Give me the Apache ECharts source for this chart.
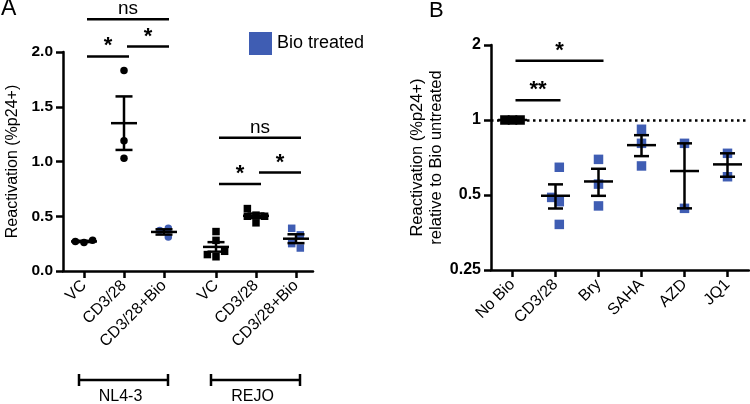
<!DOCTYPE html>
<html><head><meta charset="utf-8">
<script src="https://cdn.jsdelivr.net/npm/echarts@6/dist/echarts.min.js"></script>
<style>html,body{margin:0;padding:0;background:#fff}#c{width:750px;height:404px}</style>
</head><body><div id="c"></div>
<script>
// ---------------- data ----------------
const catsA = ['VC', 'CD3/28', 'CD3/28+Bio', 'VC', 'CD3/28', 'CD3/28+Bio'];
const strainsA = ['NL4-3', 'REJO'];
const nl43VC  = [0.28, 0.27, 0.26];
const nl43CD  = [1.83, 1.19, 1.03];
const nl43Bio = [0.39, 0.31, 0.37];
const rejoVC  = [0.36, 0.28, 0.18, 0.15, 0.13];
const rejoCD  = [0.57, 0.51, 0.50, 0.50, 0.44];
const rejoBio = [0.39, 0.33, 0.25, 0.21];
const yTicksA = ['0.0', '0.5', '1.0', '1.5', '2.0'];

const catsB = ['No Bio', 'CD3/28', 'Bry', 'SAHA', 'AZD', 'JQ1'];
const noBioB = [1, 1, 1];
const cdB    = [0.646, 0.489, 0.47, 0.381];
const bryB   = [0.695, 0.553, 0.452];
const sahaB  = [0.918, 0.806, 0.654];
const azdB   = [0.806, 0.442];
const jq1B   = [0.735, 0.592];
const yTicksB = ['0.25', '0.5', '1', '2'];

// significance brackets: [fromCategory, toCategory, y value, label]
const sigA = [[0, 2, 2.30, 'ns'], [0, 1, 1.96, '*'], [1, 2, 2.05, '*'],
              [3, 5, 1.216, 'ns'], [3, 4, 0.795, '*'], [4, 5, 0.899, '*']];
const sigB = [[0, 2, 1.73, '*'], [0, 1, 1.20, '**']];
// strain groups: [fromCategory, toCategory]
const groupsA = [[0, 2], [3, 5]];

// ---------------- layout / style ----------------
const FONT = "'Liberation Sans', Arial, Helvetica, sans-serif";
const BLUE = '#3f5db3';
const gA = {left: 63, top: 52, width: 250, height: 219};
const gB = {left: 491, top: 45, width: 258, height: 225};
const groupGap = 0.3;
const posA = catsA.map((c, i) => i < 3 ? i : i + groupGap);
const xPosA = i => i < 3 ? i : i + groupGap;

function meanSem(v) {
  const n = v.length, m = v.reduce((a, b) => a + b, 0) / n;
  if (n < 2) return [m, 0];
  const sd = Math.sqrt(v.reduce((a, b) => a + (b - m) * (b - m), 0) / (n - 1));
  return [m, sd / Math.sqrt(n)];
}
function swarm(vals, toPx, size, step) {
  const order = vals.map((v, i) => i).sort((a, b) => vals[a] - vals[b]);
  const placed = [], off = new Array(vals.length).fill(0);
  const cands = [0];
  for (let k = 1; k < 10; k++) cands.push(-k * step, k * step);
  order.forEach(i => {
    const y = toPx(vals[i]);
    for (const c of cands) {
      if (!placed.some(p => Math.abs(p.y - y) < size * 0.95 && Math.abs(p.x - c) < step * 0.99)) {
        off[i] = c; placed.push({x: c, y}); break;
      }
    }
  });
  const mid = (Math.min(...off) + Math.max(...off)) / 2;
  return off.map(o => o - mid);
}
const pxA = v => v * gA.height / 2;
const pxB = v => Math.log2(v) * gB.height / 3;

const SZ_A = 7.5, SZ_B = 9.5;
function scatterA(vals, cat, symbol, color, name) {
  const off = swarm(vals, pxA, SZ_A, SZ_A * 1.15);
  return {
    type: 'scatter', name: name, xAxisIndex: 0, yAxisIndex: 0,
    symbol: symbol, symbolSize: SZ_A, itemStyle: {color: color, opacity: 1},
    z: 3, silent: true,
    data: vals.map((v, i) => ({value: [xPosA(cat), v], symbolOffset: [off[i], 0]}))
  };
}
function scatterB(vals, cat, color, name) {
  const off = swarm(vals, pxB, SZ_B, SZ_B * 0.8);
  return {
    type: 'scatter', name: name, xAxisIndex: 1, yAxisIndex: 1,
    symbol: 'rect', symbolSize: SZ_B, itemStyle: {color: color, opacity: 1},
    z: 3, silent: true,
    data: vals.map((v, i) => ({value: [cat, v], symbolOffset: [off[i], 0]}))
  };
}
const LW = 2.5;
function errRender(meanW, capW) {
  return function (params, api) {
    const x = api.value(0), m = api.value(1), s = api.value(2);
    const c = api.coord([x, m]), hi = api.coord([x, m + s]), lo = api.coord([x, m - s]);
    const st = {stroke: '#000', lineWidth: LW};
    const ch = [{type: 'line', shape: {x1: c[0] - meanW / 2, y1: c[1], x2: c[0] + meanW / 2, y2: c[1]}, style: st}];
    if (s > 0) {
      ch.push({type: 'line', shape: {x1: c[0], y1: hi[1], x2: c[0], y2: lo[1]}, style: st});
      ch.push({type: 'line', shape: {x1: c[0] - capW / 2, y1: hi[1], x2: c[0] + capW / 2, y2: hi[1]}, style: st});
      ch.push({type: 'line', shape: {x1: c[0] - capW / 2, y1: lo[1], x2: c[0] + capW / 2, y2: lo[1]}, style: st});
    }
    return {type: 'group', children: ch};
  };
}
function sigRender(list, xpos) {
  return function (params, api) {
    const s = list[params.dataIndex];
    const p1 = api.coord([xpos(s[0]), s[2]]), p2 = api.coord([xpos(s[1]), s[2]]);
    const x1 = p1[0] + 3, x2 = p2[0] + 5, y = p1[1];
    const star = s[3].indexOf('*') >= 0;
    return {type: 'group', children: [
      {type: 'line', shape: {x1: x1, y1: y, x2: x2, y2: y}, style: {stroke: '#000', lineWidth: LW}},
      {type: 'text', x: (x1 + x2) / 2, y: star ? y + 1 : y - 1,
       style: {text: s[3], font: (star ? 'bold 22px ' : 'normal 19px ') + FONT,
               fill: '#000', align: 'center', verticalAlign: 'bottom'}}
    ]};
  };
}
function groupRender(params, api) {
  const g = groupsA[params.dataIndex];
  const a = api.coord([xPosA(g[0]), 0]), b = api.coord([xPosA(g[1]), 0]);
  const x1 = a[0] - 5, x2 = b[0] + 4, y = a[1] + 109;
  const st = {stroke: '#000', lineWidth: LW};
  return {type: 'group', children: [
    {type: 'line', shape: {x1: x1, y1: y, x2: x2, y2: y}, style: st},
    {type: 'line', shape: {x1: x1, y1: y - 6, x2: x1, y2: y + 6}, style: st},
    {type: 'line', shape: {x1: x2, y1: y - 6, x2: x2, y2: y + 6}, style: st},
    {type: 'text', x: (x1 + x2) / 2 - 3, y: y + 17,
     style: {text: strainsA[params.dataIndex], font: 'normal 16px ' + FONT, fill: '#000',
             align: 'center', verticalAlign: 'middle'}}
  ]};
}

const groupsDataA = [[nl43VC, 0], [nl43CD, 1], [nl43Bio, 2], [rejoVC, 3], [rejoCD, 4], [rejoBio, 5]];
const errA = groupsDataA.map(g => [xPosA(g[1])].concat(meanSem(g[0])));
const groupsDataB = [noBioB, cdB, bryB, sahaB, azdB, jq1B];
const errB = groupsDataB.map((g, i) => [i].concat(meanSem(g)));

const axisLine = {show: true, onZero: false, lineStyle: {color: '#000', width: LW}};
const axisTick = {show: true, length: 7, lineStyle: {color: '#000', width: LW}};

const nearestIdx = (arr, v) => arr.findIndex(p => Math.abs(p - v) < 1e-6);

const option = {
  animation: false,
  textStyle: {fontFamily: FONT},
  title: [
    {text: 'A', left: 1, top: -3, padding: 0, textStyle: {fontSize: 23, fontWeight: 'normal', color: '#000', fontFamily: FONT}},
    {text: 'B', left: 429, top: 0, padding: 0, textStyle: {fontSize: 22, fontWeight: 'normal', color: '#000', fontFamily: FONT}}
  ],
  legend: {
    data: ['Bio treated'], left: 249, top: 32, padding: 0, icon: 'rect',
    itemWidth: 23, itemHeight: 23, selectedMode: false, itemGap: 5,
    textStyle: {fontSize: 18, color: '#000', fontFamily: FONT}
  },
  grid: [
    Object.assign({containLabel: false}, gA),
    Object.assign({containLabel: false}, gB)
  ],
  xAxis: [
    {gridIndex: 0, type: 'value', min: -0.525, max: 5 + groupGap + 0.425,
     axisLine: axisLine, splitLine: {show: false},
     axisTick: Object.assign({customValues: posA}, axisTick),
     axisLabel: {customValues: posA, rotate: 45, fontSize: 16, color: '#000', margin: 12, fontFamily: FONT,
                 formatter: v => catsA[nearestIdx(posA, v)] || ''}},
    {gridIndex: 1, type: 'category', data: catsB, boundaryGap: true,
     axisLine: axisLine, splitLine: {show: false},
     axisTick: Object.assign({alignWithLabel: true}, axisTick),
     axisLabel: {rotate: 45, fontSize: 16, color: '#000', margin: 12, interval: 0, fontFamily: FONT}}
  ],
  yAxis: [
    {gridIndex: 0, type: 'value', min: 0, max: 2, interval: 0.5,
     axisLine: axisLine, axisTick: axisTick, splitLine: {show: false},
     axisLabel: {fontSize: 15.5, fontWeight: 'bold', color: '#000', margin: 10, fontFamily: FONT,
                 formatter: v => yTicksA[Math.round(v / 0.5)]},
     name: 'Reactivation (%p24+)', nameLocation: 'middle', nameGap: 42,
     nameTextStyle: {fontSize: 16, color: '#000', fontFamily: FONT}},
    {gridIndex: 1, type: 'log', logBase: 2, min: 0.25, max: 2,
     axisLine: axisLine, axisTick: axisTick, splitLine: {show: false}, minorTick: {show: false},
     axisLabel: {fontSize: 16, fontWeight: 'bold', color: '#000', margin: 10, fontFamily: FONT,
                 formatter: v => yTicksB[Math.round(Math.log2(v)) + 2]},
     name: 'Reactivation (%p24+)\nrelative to Bio untreated', nameLocation: 'middle', nameGap: 45,
     nameTextStyle: {fontSize: 16.5, lineHeight: 19, color: '#000', fontFamily: FONT}}
  ],
  series: [
    scatterA(nl43VC, 0, 'circle', '#000', 'NL4-3 VC'),
    scatterA(nl43CD, 1, 'circle', '#000', 'NL4-3 CD3/28'),
    scatterA(nl43Bio, 2, 'circle', BLUE, 'Bio treated'),
    scatterA(rejoVC, 3, 'rect', '#000', 'REJO VC'),
    scatterA(rejoCD, 4, 'rect', '#000', 'REJO CD3/28'),
    scatterA(rejoBio, 5, 'rect', BLUE, 'Bio treated'),
    {type: 'custom', xAxisIndex: 0, yAxisIndex: 0, data: errA, renderItem: errRender(26, 17), z: 5, silent: true, clip: false},
    {type: 'custom', xAxisIndex: 0, yAxisIndex: 0, data: sigA.map(s => [xPosA(s[0]), s[2]]),
     renderItem: sigRender(sigA, xPosA), z: 5, silent: true, clip: false},
    {type: 'custom', xAxisIndex: 0, yAxisIndex: 0, data: groupsA.map(g => [xPosA(g[0]), 0]),
     renderItem: groupRender, z: 5, silent: true, clip: false},

    Object.assign(scatterB(noBioB, 0, '#000', 'No Bio'), {
      markLine: {symbol: 'none', silent: true, label: {show: false},
                 lineStyle: {type: [2.5, 3.5], color: '#000', width: 2.5},
                 data: [{yAxis: 1}]}
    }),
    scatterB(cdB, 1, BLUE, 'Bio treated'),
    scatterB(bryB, 2, BLUE, 'Bio treated'),
    scatterB(sahaB, 3, BLUE, 'Bio treated'),
    scatterB(azdB, 4, BLUE, 'Bio treated'),
    scatterB(jq1B, 5, BLUE, 'Bio treated'),
    {type: 'custom', xAxisIndex: 1, yAxisIndex: 1, data: errB, renderItem: errRender(29, 15), z: 5, silent: true, clip: false},
    {type: 'custom', xAxisIndex: 1, yAxisIndex: 1, data: sigB.map(s => [s[0], s[2]]),
     renderItem: sigRender(sigB, i => i), z: 5, silent: true, clip: false}
  ]
};
const chart = echarts.init(document.getElementById('c'), null, {renderer: 'canvas'});
chart.setOption(option);
</script>
</body></html>
